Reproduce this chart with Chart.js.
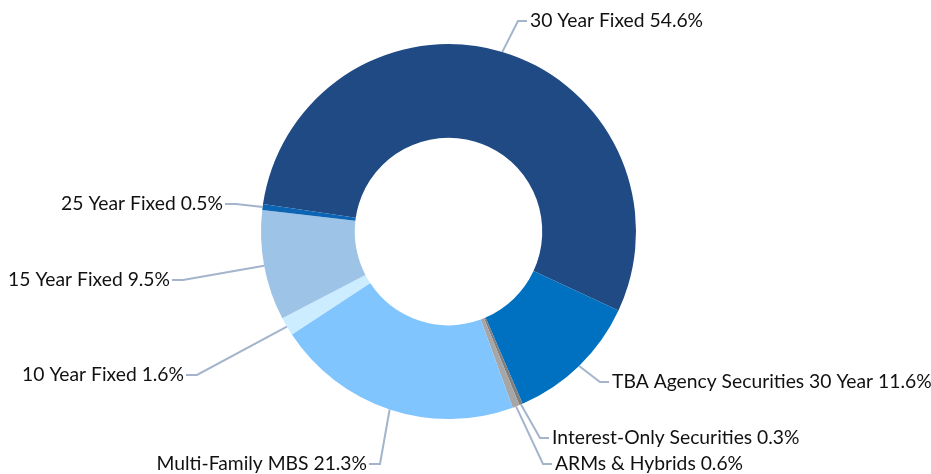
<!DOCTYPE html>
<html>
<head>
<meta charset="utf-8">
<script src="https://cdn.jsdelivr.net/npm/chart.js@4.4.0/dist/chart.umd.min.js"></script>
<style>
  html, body { margin: 0; padding: 0; background: #fff; }
  #wrap { width: 931px; height: 474px; position: relative; }
</style>
</head>
<body>
<div id="wrap"><canvas id="mixChart"></canvas></div>
<script>
// Data
const categories = ['30 Year Fixed', 'TBA Agency Securities 30 Year', 'Interest-Only Securities', 'ARMs & Hybrids',
    'Multi-Family MBS', '10 Year Fixed', '15 Year Fixed', '25 Year Fixed'];
const shares = [54.6, 11.6, 0.3, 0.6, 21.3, 1.6, 9.5, 0.5];
const sliceColors = ['#1F4A84', '#0070C0', '#7F7F7F', '#A6A6A6', '#80C5FD', '#CCECFF', '#9DC3E6', '#0B64B4'];

// Label placement (text anchor x, y and alignment)
const labelX = [530, 612, 552, 555, 367, 184, 170, 223];
const labelY = [21, 382, 438, 464, 464, 375, 280, 204];
const labelAlign = ['left', 'left', 'left', 'left', 'right', 'right', 'right', 'right'];

/* ------------------ LEADER LINE LABELS ------------------ */
const leaderLabels = {
    id: 'leaderLabels',
    afterDatasetsDraw(chart) {
        const ctx = chart.ctx;
        const meta = chart.getDatasetMeta(0);
        ctx.save();
        meta.data.forEach((arc, i) => {
            const mid = (arc.startAngle + arc.endAngle) / 2;
            const ax = arc.x + Math.cos(mid) * arc.outerRadius;
            const ay = arc.y + Math.sin(mid) * arc.outerRadius;
            const left = labelAlign[i] === 'left';
            const tx = labelX[i];
            const ty = labelY[i];
            const elbowX = left ? tx - 12 : tx + 13;
            const endX = left ? tx - 3 : tx + 2;

            ctx.strokeStyle = '#A3B4CC';
            ctx.lineWidth = 2;
            ctx.beginPath();
            ctx.moveTo(ax, ay);
            ctx.lineTo(elbowX, ty);
            ctx.lineTo(endX, ty);
            ctx.stroke();

            ctx.fillStyle = '#111';
            ctx.font = '19.3px Lato, "Open Sans", sans-serif';
            ctx.textBaseline = 'middle';
            ctx.textAlign = labelAlign[i];
            ctx.fillText(categories[i] + ' ' + shares[i].toFixed(1) + '%', tx, ty);
        });
        ctx.restore();
    }
};

new Chart(document.getElementById('mixChart'), {
    type: 'doughnut',
    data: {
        labels: categories,
        datasets: [{
            data: shares,
            backgroundColor: sliceColors,
            borderWidth: 0
        }]
    },
    options: {
        responsive: true,
        maintainAspectRatio: false,
        animation: false,
        rotation: -81.6,
        cutout: '50%',
        layout: { padding: { top: 44, bottom: 55, left: 0, right: 34 } },
        plugins: {
            legend: { display: false },
            tooltip: { enabled: false }
        }
    },
    plugins: [leaderLabels]
});
</script>
</body>
</html>
